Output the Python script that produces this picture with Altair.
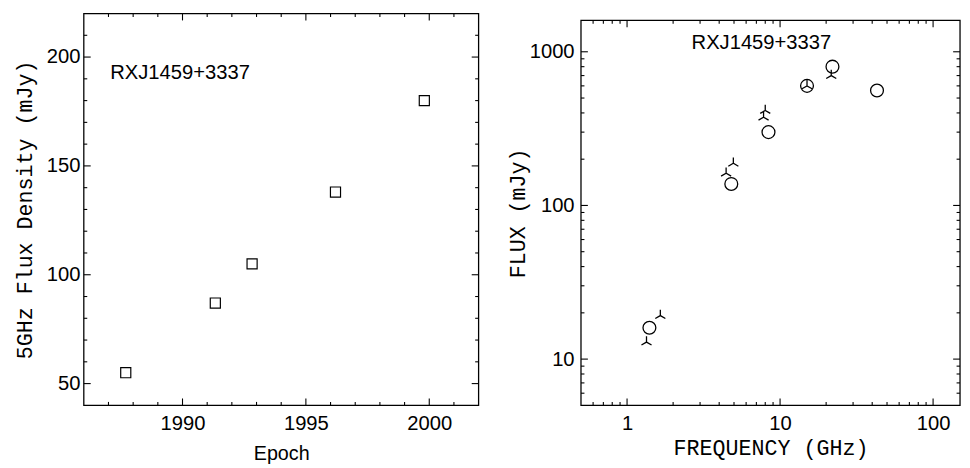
import altair as alt
import pandas as pd

# ---------------- data ----------------
# left panel: 5 GHz flux density vs epoch
epoch = [1987.7, 1991.33, 1992.82, 1996.2, 1999.8]
flux_5ghz = [55, 87, 105, 138, 180]

# right panel: spectrum (circles)
freq_circle = [1.4, 4.8, 8.4, 15.0, 22.0, 43.0]
flux_circle = [16, 138, 300, 600, 800, 560]

# right panel: spectrum (three-spoke symbols)
freq_tri = [1.34, 1.65, 4.44, 4.95, 7.8, 8.0, 15.0, 21.6]
flux_tri = [12.9, 19.2, 162, 188, 375, 415, 600, 700]

source_name = ["RXJ1459+3337"]
left_label_x = [1987.07]
left_label_y = [190.0]
right_label_x = [2.64]
right_label_y = [1037]

# axis tick values
epoch_labels = [1990, 1995, 2000]
epoch_minor = [1987, 1988, 1989, 1991, 1992, 1993, 1994, 1996, 1997, 1998, 1999, 2001]
flux_lin_labels = [50, 100, 150, 200]
flux_lin_minor = [60, 70, 80, 90, 110, 120, 130, 140, 160, 170, 180, 190, 210]
freq_labels = [1, 10, 100]
freq_minor = [0.6, 0.7, 0.8, 0.9, 2, 3, 4, 5, 6, 7, 8, 9,
              20, 30, 40, 50, 60, 70, 80, 90]
flux_log_labels = [10, 100, 1000]
flux_log_minor = [6, 7, 8, 9, 20, 30, 40, 50, 60, 70, 80, 90,
                  200, 300, 400, 500, 600, 700, 800, 900]

SANS = "Liberation Sans"
MONO = "Liberation Mono"

W1, W2, H = 401, 385, 398
TOP2 = 7          # right frame starts a little lower than the left one
MAJ, MIN = 7, 3.5

TRI = "M0,-1L0,0M-0.866,0.5L0,0L0.866,0.5"


def label_axis(values, title, title_font, title_size, lab_pad, title_pad, fmt="d"):
    return alt.Axis(values=values, format=fmt, ticks=False, domain=False, grid=False,
                    labelFont=SANS, labelFontSize=20.5, labelColor="black",
                    labelPadding=lab_pad,
                    title=title, titleFont=title_font, titleFontSize=title_size,
                    titleFontWeight="normal", titleColor="black", titlePadding=title_pad)


def x_ticks(vals, scale, axis, top, length):
    """inward ticks on the top and bottom edges"""
    d = pd.DataFrame({"v": vals})
    base = alt.Chart(d).mark_rule(color="black", strokeWidth=1.1)
    xe = alt.X("v:Q", scale=scale, axis=axis)
    return [
        base.encode(x=xe, y=alt.value(top), y2=alt.value(top + length)),
        base.encode(x=xe, y=alt.value(H), y2=alt.value(H - length)),
    ]


def y_ticks(vals, scale, axis, width, length):
    """inward ticks on the left and right edges"""
    d = pd.DataFrame({"v": vals})
    base = alt.Chart(d).mark_rule(color="black", strokeWidth=1.1)
    ye = alt.Y("v:Q", scale=scale, axis=axis)
    return [
        base.encode(y=ye, x=alt.value(0), x2=alt.value(length)),
        base.encode(y=ye, x=alt.value(width), x2=alt.value(width - length)),
    ]


def frame(width, top):
    return alt.Chart(pd.DataFrame({"a": [0]})).mark_rect(
        fill="transparent", stroke="black", strokeWidth=1.3).encode(
        x=alt.value(0), x2=alt.value(width), y=alt.value(top), y2=alt.value(H))


# ---------------- left panel ----------------
xs1 = alt.Scale(domain=[1986, 2002], nice=False, zero=False)
ys1 = alt.Scale(domain=[40, 220], nice=False, zero=False)
xa1 = label_axis(epoch_labels, "Epoch", SANS, 20, 9, 9)
ya1 = label_axis(flux_lin_labels, "5GHz Flux Density (mJy)", MONO, 22, 4, 9.5)
df1 = pd.DataFrame({"epoch": epoch, "flux": flux_5ghz})

pts1 = alt.Chart(df1).mark_point(shape="square", filled=False, size=105, color="black",
                                 strokeWidth=1.2, opacity=1).encode(
    x=alt.X("epoch:Q", scale=xs1, axis=xa1),
    y=alt.Y("flux:Q", scale=ys1, axis=ya1),
)
lab1 = alt.Chart(pd.DataFrame({"x": left_label_x, "y": left_label_y, "t": source_name})).mark_text(
    align="left", baseline="alphabetic", font=SANS, fontSize=20.5, color="black").encode(
    x=alt.X("x:Q", scale=xs1, axis=xa1),
    y=alt.Y("y:Q", scale=ys1, axis=ya1),
    text="t:N",
)
left = alt.layer(
    pts1, lab1,
    *x_ticks(epoch_labels, xs1, xa1, 0, MAJ), *x_ticks(epoch_minor, xs1, xa1, 0, MIN),
    *y_ticks(flux_lin_labels, ys1, ya1, W1, MAJ), *y_ticks(flux_lin_minor, ys1, ya1, W1, MIN),
    frame(W1, 0),
).properties(width=W1, height=H)

# ---------------- right panel ----------------
xs2 = alt.Scale(type="log", domain=[0.5, 150], nice=False)
ys2 = alt.Scale(type="log", domain=[5, 1600], nice=False, range=[H, TOP2])
xa2 = label_axis(freq_labels, "FREQUENCY (GHz)", MONO, 22, 9, 3)
ya2 = label_axis(flux_log_labels, "FLUX (mJy)", MONO, 22, 7, 0)
dfc = pd.DataFrame({"freq": freq_circle, "flux": flux_circle})
dft = pd.DataFrame({"freq": freq_tri, "flux": flux_tri})

circ = alt.Chart(dfc).mark_point(shape="circle", filled=False, size=170, color="black",
                                 strokeWidth=1.3, opacity=1).encode(
    x=alt.X("freq:Q", scale=xs2, axis=xa2),
    y=alt.Y("flux:Q", scale=ys2, axis=ya2),
)
tri = alt.Chart(dft).mark_point(shape=TRI, filled=False, size=140, color="black",
                                strokeWidth=1.3, opacity=1).encode(
    x=alt.X("freq:Q", scale=xs2, axis=xa2),
    y=alt.Y("flux:Q", scale=ys2, axis=ya2),
)
lab2 = alt.Chart(pd.DataFrame({"x": right_label_x, "y": right_label_y, "t": source_name})).mark_text(
    align="left", baseline="alphabetic", font=SANS, fontSize=20.5, color="black").encode(
    x=alt.X("x:Q", scale=xs2, axis=xa2),
    y=alt.Y("y:Q", scale=ys2, axis=ya2),
    text="t:N",
)
right = alt.layer(
    circ, tri, lab2,
    *x_ticks(freq_labels, xs2, xa2, TOP2, MAJ), *x_ticks(freq_minor, xs2, xa2, TOP2, MIN),
    *y_ticks(flux_log_labels, ys2, ya2, W2, MAJ), *y_ticks(flux_log_minor, ys2, ya2, W2, MIN),
    frame(W2, TOP2),
).properties(width=W2, height=H)

chart = alt.hconcat(left, right, spacing=25).properties(
    padding={"left": 5, "top": 0, "right": 0, "bottom": 0},
    background="white",
).configure_view(stroke="transparent")

chart.save("out.html", embed_options={"renderer": "svg", "actions": False})
